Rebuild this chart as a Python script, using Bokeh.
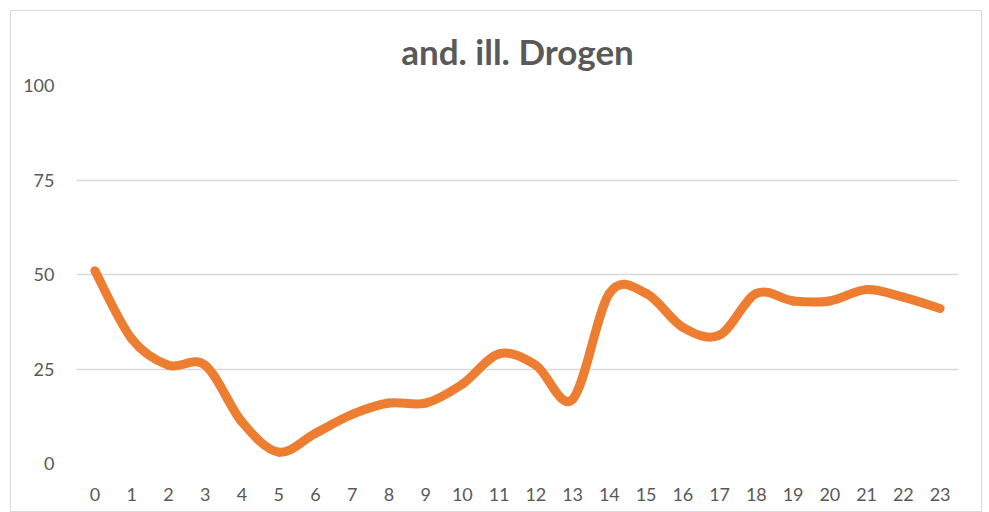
from bokeh.plotting import figure
from bokeh.embed import file_html
from bokeh.resources import INLINE
from bokeh.models import FixedTicker, ColumnDataSource, Range1d

hours = list(range(24))
values = [51, 33, 26, 26, 11, 3, 8, 13, 16, 16, 21, 29, 26, 17, 45, 45, 36, 34, 45, 43, 43, 46, 44, 41]
y_ticks = [0, 25, 50, 75, 100]
title_text = "and. ill. Drogen"

# Smooth curve rendered as cubic Bezier segments (Catmull-Rom control points)
n = len(hours)
x0, y0, x1, y1, cx0, cy0, cx1, cy1 = [], [], [], [], [], [], [], []
for i in range(n - 1):
    ip = max(i - 1, 0)
    inn = min(i + 2, n - 1)
    x0.append(hours[i]); y0.append(values[i])
    x1.append(hours[i + 1]); y1.append(values[i + 1])
    cx0.append(hours[i] + (hours[i + 1] - hours[ip]) / 6)
    cy0.append(values[i] + (values[i + 1] - values[ip]) / 6)
    cx1.append(hours[i + 1] - (hours[inn] - hours[i]) / 6)
    cy1.append(values[i + 1] - (values[inn] - values[i]) / 6)
src = ColumnDataSource(dict(x0=x0, y0=y0, x1=x1, y1=y1, cx0=cx0, cy0=cy0, cx1=cx1, cy1=cy1))

p = figure(width=972, height=502, output_backend="svg", toolbar_location=None,
           x_range=Range1d(-0.5, 23.5), y_range=Range1d(0, 100),
           min_border_left=65, min_border_right=25, min_border_top=74, min_border_bottom=50)
p.styles = {"border": "1px solid #d9d9d9", "box-sizing": "border-box",
            "margin-left": "10px", "margin-top": "10px"}
p.outline_line_color = None
p.background_fill_color = "white"
p.border_fill_color = "white"

p.title.text = title_text
p.title.align = "center"
p.title.text_font = "Lato"
p.title.text_font_style = "bold"
p.title.text_font_size = "35px"
p.title.text_color = "#595959"
p.title.offset = 0
p.title.standoff = 28

p.bezier(x0="x0", y0="y0", x1="x1", y1="y1", cx0="cx0", cy0="cy0", cx1="cx1", cy1="cy1",
         source=src, line_color="#ED7D31", line_width=9, line_cap="round", line_join="round")

p.xaxis.ticker = FixedTicker(ticks=hours)
p.yaxis.ticker = FixedTicker(ticks=y_ticks)
for ax in (p.xaxis[0], p.yaxis[0]):
    ax.axis_line_color = None
    ax.major_tick_line_color = None
    ax.minor_tick_line_color = None
    ax.major_label_text_font = "Lato"
    ax.major_label_text_font_size = "18px"
    ax.major_label_text_color = "#595959"
p.yaxis.major_label_standoff = 16
p.xaxis.major_label_standoff = 18

p.xgrid.grid_line_color = None
p.ygrid.grid_line_color = "#d9d9d9"
p.ygrid.grid_line_width = 1.5

open("out.html", "w").write(file_html(p, INLINE))
